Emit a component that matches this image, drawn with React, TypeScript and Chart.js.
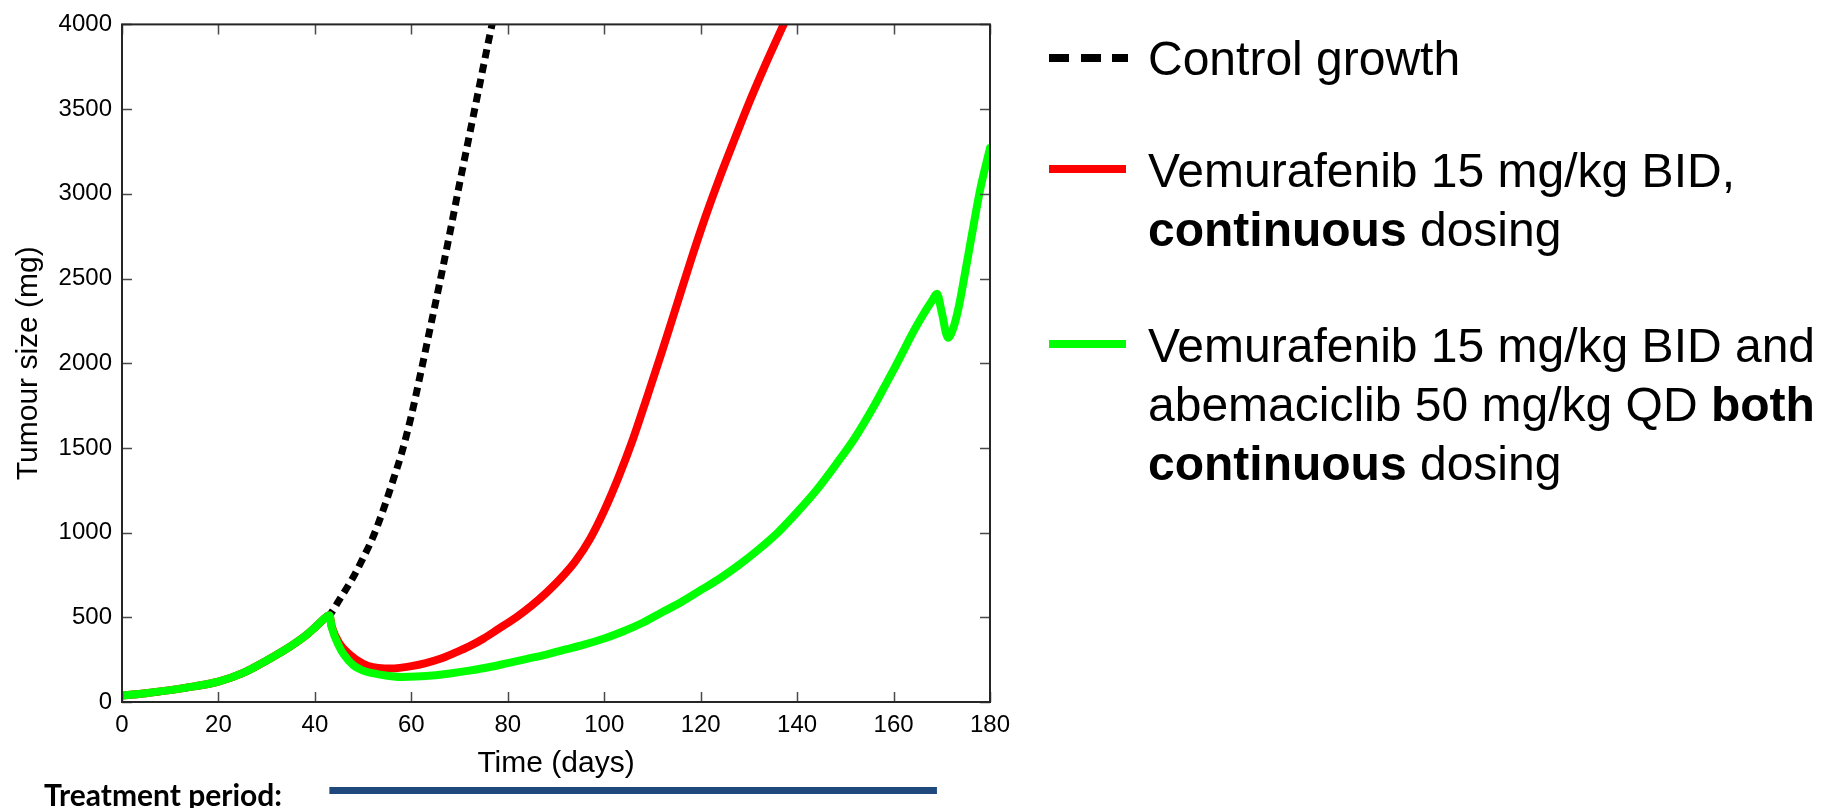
import React, { useEffect, useRef } from "react";
import { Chart, registerables } from "chart.js";

Chart.register(...registerables);

// ---- Data (days, tumour size in mg) ----
const preDays = [0, 5, 10, 15, 20, 25, 30, 35, 38, 40, 42.5, 43];
const preSize = [38, 52, 70, 92, 120, 170, 245, 330, 390, 440, 505, 512];

const controlDays = [45, 48, 50, 52, 54, 56, 58, 60, 62, 64, 66, 68, 70, 72, 74, 76, 77.5];
const controlSize = [600, 740, 850, 970, 1120, 1290, 1470, 1690, 1950, 2220, 2490, 2770, 3060, 3340, 3620, 3900, 4100];

const vemDays = [43.5, 45, 47, 50, 52, 54.5, 57, 60, 63, 66, 69, 72, 75, 78, 82, 85, 88, 91, 94, 97, 100, 103, 106, 109, 112, 115, 118, 121, 124, 127, 130, 133, 136, 138.5];
const vemSize = [445, 350, 285, 225, 205, 198, 200, 212, 230, 255, 290, 328, 375, 430, 505, 570, 645, 730, 830, 960, 1130, 1330, 1555, 1810, 2070, 2340, 2610, 2865, 3100, 3320, 3535, 3735, 3925, 4080];

const comboDays = [43.5, 45, 46, 48, 50, 52, 55, 58, 61, 65, 68, 72, 76, 80, 84, 88, 92, 96, 100, 104, 108, 112, 116, 120, 124, 128, 132, 136, 140, 144, 148, 152, 156, 158, 160, 162, 164, 166, 168, 169, 170, 171.3, 172.3, 173.5, 175, 176, 178, 180];
const comboSize = [440, 330, 280, 216, 185, 170, 155, 148, 150, 158, 168, 185, 205, 230, 255, 280, 310, 340, 375, 418, 468, 530, 590, 660, 730, 810, 900, 1000, 1120, 1250, 1400, 1560, 1750, 1855, 1960, 2070, 2180, 2280, 2370, 2410, 2300, 2150, 2200, 2330, 2560, 2720, 3030, 3270];

const treatmentStart = 43;
const treatmentEnd = 169;

const seriesLabels = [
  "Control growth",
  "Vemurafenib 15 mg/kg BID, continuous dosing",
  "Vemurafenib 15 mg/kg BID and abemaciclib 50 mg/kg QD both continuous dosing",
];

const toPoints = (d1: number[], v1: number[], d2: number[], v2: number[]) =>
  d1.map((d, i) => ({ x: d, y: v1[i] })).concat(d2.map((d, i) => ({ x: d, y: v2[i] })));

const FONT = "'Liberation Sans', Arial, Helvetica, sans-serif";

const boxPlugin = {
  id: "matlabBox",
  afterDatasetsDraw(chart: any) {
    const { ctx, chartArea, scales } = chart;
    const { left, right, top, bottom } = chartArea;
    const xs = scales.x;
    const ys = scales.y;
    ctx.save();
    ctx.strokeStyle = "#4a4a4a";
    ctx.lineWidth = 1.5;
    ctx.beginPath();
    xs.ticks.forEach((t: any) => {
      const px = Math.round(xs.getPixelForValue(t.value)) + 0.5;
      ctx.moveTo(px, bottom);
      ctx.lineTo(px, bottom - 10);
      ctx.moveTo(px, top);
      ctx.lineTo(px, top + 10);
    });
    ys.ticks.forEach((t: any) => {
      const py = Math.round(ys.getPixelForValue(t.value)) + 0.5;
      ctx.moveTo(left, py);
      ctx.lineTo(left + 10, py);
      ctx.moveTo(right, py);
      ctx.lineTo(right - 10, py);
    });
    ctx.stroke();
    ctx.strokeStyle = "#262626";
    ctx.lineWidth = 2;
    ctx.strokeRect(left, top, right - left, bottom - top);

    // Treatment period bar
    ctx.strokeStyle = "#1F497D";
    ctx.lineWidth = 7;
    ctx.lineCap = "butt";
    ctx.beginPath();
    ctx.moveTo(xs.getPixelForValue(treatmentStart), 790.5);
    ctx.lineTo(xs.getPixelForValue(treatmentEnd), 790.5);
    ctx.stroke();

    ctx.fillStyle = "#000";
    ctx.font = "bold 30px Lato, 'Open Sans', sans-serif";
    ctx.textAlign = "left";
    ctx.textBaseline = "alphabetic";
    ctx.fillText("Treatment period:", 44, 806);
    ctx.restore();
  },
};

export default function App() {
  const canvasRef = useRef<HTMLCanvasElement | null>(null);

  useEffect(() => {
    document.body.style.margin = "0";
    document.body.style.overflow = "hidden";
    const canvas = canvasRef.current;
    if (!canvas) return;
    Chart.defaults.font.family = FONT;
    const lineCommon = {
      borderWidth: 8,
      pointRadius: 0,
      cubicInterpolationMode: "monotone",
      clip: 0,
    };
    const chart = new Chart(canvas, {
      type: "line",
      data: {
        datasets: [
          {
            ...lineCommon,
            label: seriesLabels[2],
            data: toPoints(preDays, preSize, comboDays, comboSize),
            borderColor: "#00FF00",
            borderJoinStyle: "round",
            borderCapStyle: "round",
            order: 0,
          },
          {
            ...lineCommon,
            label: seriesLabels[1],
            data: toPoints(preDays, preSize, vemDays, vemSize),
            borderColor: "#FF0000",
            borderJoinStyle: "round",
            borderCapStyle: "round",
            order: 1,
          },
          {
            ...lineCommon,
            label: seriesLabels[0],
            data: toPoints(preDays, preSize, controlDays, controlSize),
            borderColor: "#000000",
            borderWidth: 7,
            borderDash: [9, 6],
            order: 2,
          },
        ],
      },
      options: {
        animation: false,
        responsive: false,
        devicePixelRatio: 1,
        layout: { padding: { top: 18, right: 838, bottom: 26, left: 0 } },
        plugins: { legend: { display: false }, tooltip: { enabled: false } },
        scales: {
          x: {
            type: "linear",
            min: 0,
            max: 180,
            ticks: {
              stepSize: 20,
              font: { size: 24, family: FONT },
              color: "#000",
              padding: 9,
              maxRotation: 0,
              autoSkip: false,
              callback: (v: any) => String(v),
            },
            grid: { display: false, drawTicks: false },
            border: { display: false },
            title: {
              display: true,
              text: "Time (days)",
              font: { size: 30, family: FONT },
              color: "#000",
              padding: { top: 0, bottom: 0 },
            },
            afterFit: (s: any) => {
              s.height = 80;
            },
          },
          y: {
            type: "linear",
            min: 0,
            max: 4000,
            ticks: {
              stepSize: 500,
              font: { size: 24, family: FONT },
              color: "#000",
              padding: 10,
              callback: (v: any) => String(v),
            },
            grid: { display: false, drawTicks: false },
            border: { display: false },
            title: {
              display: true,
              text: "Tumour size (mg)",
              font: { size: 30, family: FONT },
              color: "#000",
              padding: { top: 11, bottom: 0 },
            },
            afterFit: (s: any) => {
              s.width = 122;
            },
          },
        },
      },
      plugins: [boxPlugin],
    } as any);
    return () => chart.destroy();
  }, []);

  const textStyle: React.CSSProperties = {
    position: "absolute",
    left: 1148,
    fontFamily: FONT,
    fontSize: 48,
    lineHeight: "59px",
    color: "#000",
    whiteSpace: "nowrap",
  };
  const swatch = (top: number, color: string): React.CSSProperties => ({
    position: "absolute",
    left: 1049,
    top: top - 4,
    width: 77,
    height: 8,
    background: color,
  });
  const dash = (left: number, width: number): React.CSSProperties => ({
    position: "absolute",
    left,
    top: 58 - 4,
    width,
    height: 8,
    background: "#000",
  });

  return (
    <div style={{ position: "relative", width: 1828, height: 808, background: "#fff", overflow: "hidden" }}>
      <canvas ref={canvasRef} width={1828} height={808} style={{ display: "block", width: 1828, height: 808 }} />
      <div style={dash(1049, 20)} />
      <div style={dash(1081, 20)} />
      <div style={dash(1112, 16)} />
      <div style={{ ...textStyle, top: 29 }}>Control growth</div>
      <div style={swatch(169, "#FF0000")} />
      <div style={{ ...textStyle, top: 141 }}>
        Vemurafenib 15 mg/kg BID,
        <br />
        <b>continuous</b> dosing
      </div>
      <div style={swatch(344, "#00FF00")} />
      <div style={{ ...textStyle, top: 316 }}>
        Vemurafenib 15 mg/kg BID and
        <br />
        abemaciclib 50 mg/kg QD <b>both</b>
        <br />
        <b>continuous</b> dosing
      </div>
    </div>
  );
}
